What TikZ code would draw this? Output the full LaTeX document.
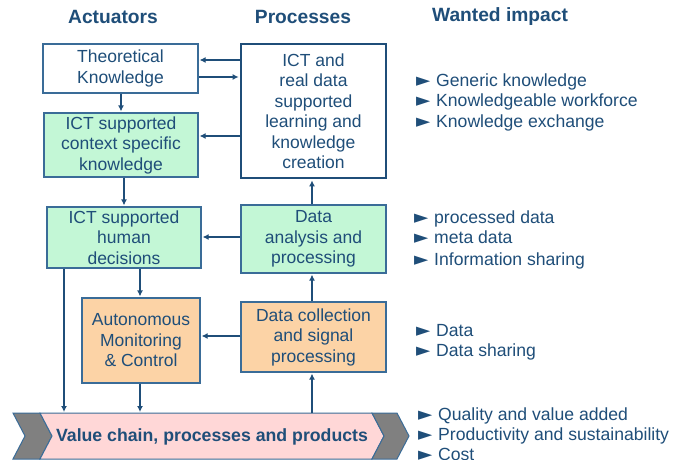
\documentclass[tikz,border=0pt]{standalone}
\usepackage{fontspec}
\setmainfont{Liberation Sans}
\newfontfamily\symfont{DejaVu Sans}
\usetikzlibrary{arrows.meta}
\definecolor{tblue}{HTML}{1F4E79}
\definecolor{bline}{HTML}{3A6C98}
\definecolor{gfill}{HTML}{C3F7D6}
\definecolor{ofill}{HTML}{FCD3A6}
\definecolor{pfill}{HTML}{FFD7D7}
\definecolor{grayfill}{HTML}{808080}
\newcommand{\tri}{\makebox[20pt][l]{\symfont\fontsize{18.5}{14}\selectfont ►}}
\begin{document}
\begin{tikzpicture}[x=1pt,y=-1pt,
  box/.style={draw=bline, line width=1.2pt, text=tblue, align=center,
    font=\fontsize{17.5}{20.5}\selectfont, inner sep=0pt},
  arr/.style={draw=tblue, line width=1.8pt, shorten >=1pt,
    -{Latex[length=6pt,width=6pt]}},
  hdr/.style={text=tblue, font=\fontsize{19.2}{22}\selectfont\bfseries, inner sep=0pt},
  item/.style={text=tblue, font=\fontsize{17.6}{20.5}\selectfont, anchor=base west, inner sep=0pt},
  chev/.style={draw=bline, line width=1pt}]
\useasboundingbox (0,0) rectangle (685,460);
\fill[white] (0,0) rectangle (685,460);

% headers
\node[hdr] (h1) at (113,17) {Actuators};
\node[hdr] (h2) at (303,17) {Processes};
\node[hdr] (h3) at (500,17) {Wanted impact};

% boxes
\node[box, fill=white, minimum width=155pt, minimum height=49pt] (theo) at (120.5,68.5) {Theoretical\\Knowledge};
\node[box, fill=white, draw=tblue, line width=2.8pt, minimum width=145pt, minimum height=134pt] (ict) at (313.5,111)
  {ICT and\\real data\\supported\\learning and\\knowledge\\creation};
\node[box, fill=gfill, minimum width=154pt, minimum height=64pt] (ctx) at (121,145) {ICT supported\\context specific\\knowledge};
\node[box, fill=gfill, minimum width=154pt, minimum height=61pt] (hum) at (124,237.5) {ICT supported\\human\\decisions};
\node[box, fill=gfill, minimum width=145pt, minimum height=68pt] (dat) at (313.5,239) {Data\\analysis and\\processing};
\node[box, fill=ofill, minimum width=118pt, minimum height=85pt] (aut) at (141,340.5) {Autonomous\\Monitoring\\\& Control};
\node[box, fill=ofill, minimum width=145pt, minimum height=70pt] (dcol) at (313.5,337) {Data collection\\and signal\\processing};

% value chain
\draw[chev, fill=grayfill] (13,413) -- (40,413) -- (52,436) -- (40,459) -- (13,459) -- (25,436) -- cycle;
\draw[chev, fill=pfill] (40,413) -- (372,413) -- (384,436) -- (372,459) -- (40,459) -- (52,436) -- cycle;
\draw[chev, fill=grayfill] (372,413) -- (397,413) -- (409,436) -- (397,459) -- (372,459) -- (384,436) -- cycle;
\node[text=tblue, font=\fontsize{17.7}{20.5}\selectfont\bfseries, inner sep=0pt] (vc) at (212,437) {Value chain, processes and products};
\coordinate (vctop) at (212,413);

% connectors
\draw[arr] (ict.west |- 0,60) -- (theo.east |- 0,60);
\draw[arr] (theo.east |- 0,77) -- (ict.west |- 0,77);
\draw[arr] (ict.west |- 0,136) -- (ctx.east |- 0,136);
\draw[arr] (theo.south -| 121,0) -- (ctx.north -| 121,0);
\draw[arr] (ctx.south -| 124,0) -- (hum.north -| 124,0);
\draw[arr] (dat.north -| 312,0) -- (ict.south -| 312,0);
\draw[arr] (dat.west |- 0,237) -- (hum.east |- 0,237);
\draw[arr] (hum.south -| 140,0) -- (aut.north -| 140,0);
\draw[arr] (hum.south -| 64,0) -- (vctop -| 64,0);
\draw[arr] (aut.south -| 140,0) -- (vctop -| 140,0);
\draw[arr] (vctop -| 312,0) -- (dcol.south -| 312,0);
\draw[arr] (dcol.north -| 312,0) -- (dat.south -| 312,0);
\draw[arr] (dcol.west |- 0,336) -- (aut.east |- 0,336);

% wanted impact
\node[item] (i11) at (416,86) {\tri Generic knowledge};
\node[item] (i12) at (416,106.5) {\tri Knowledgeable workforce};
\node[item] (i13) at (416,127) {\tri Knowledge exchange};
\node[item] (i21) at (414,223) {\tri processed data};
\node[item] (i22) at (414,243.5) {\tri meta data};
\node[item] (i23) at (414,265) {\tri Information sharing};
\node[item] (i31) at (416,336) {\tri Data};
\node[item] (i32) at (416,356) {\tri Data sharing};
\node[item] (i41) at (418,420.5) {\tri Quality and value added};
\node[item] (i42) at (418,440.5) {\tri Productivity and sustainability};
\node[item] (i43) at (418,460) {\tri Cost};
\end{tikzpicture}
\end{document}
